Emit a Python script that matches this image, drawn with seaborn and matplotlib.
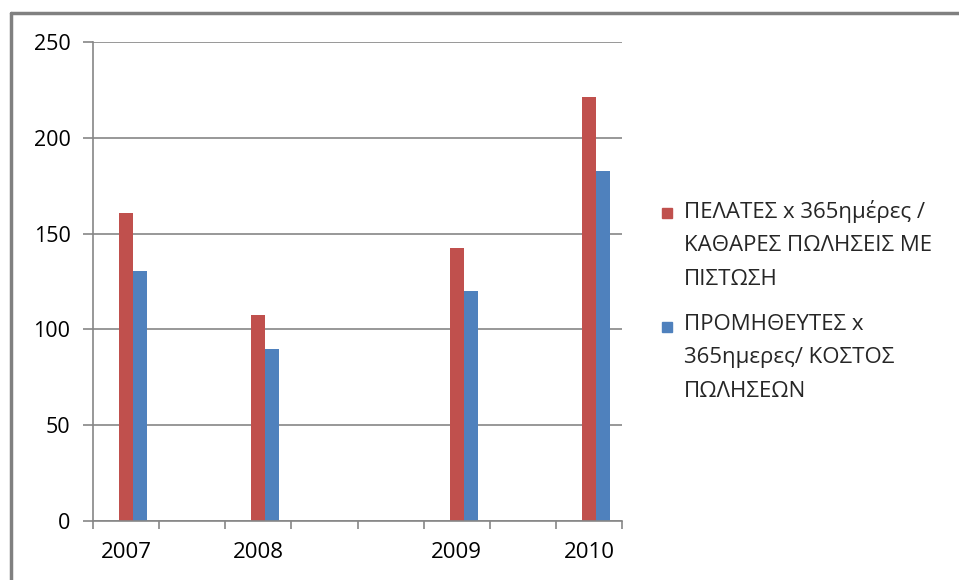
import pandas as pd
import numpy as np
from matplotlib import pyplot as plt
from matplotlib.lines import Line2D
from matplotlib.patches import Rectangle
import seaborn as sns

# category slots as laid out on the original axis (blank slots are empty rows)
slots = ['2007', ' ', '2008', '  ', '   ', '2009', '    ', '2010']
years = ['2007', '2008', '2009', '2010']
label_clients = 'ΠΕΛΑΤΕΣ x 365ημέρες /\nΚΑΘΑΡΕΣ ΠΩΛΗΣΕΙΣ ΜΕ\nΠΙΣΤΩΣΗ'
label_suppliers = 'ΠΡΟΜΗΘΕΥΤΕΣ x\n365ημερες/ ΚΟΣΤΟΣ\nΠΩΛΗΣΕΩΝ'
clients = [161, 107.5, 142.5, 221.5]
suppliers = [130.5, 90, 120, 182.5]
red = '#C0504D'
blue = '#4F81BD'

df = pd.DataFrame({
    'year': years * 2,
    'series': [label_clients] * 4 + [label_suppliers] * 4,
    'value': clients + suppliers,
})

sns.set_style('white')
plt.rcParams['font.family'] = ['Open Sans', 'DejaVu Sans']
grey = '#868686'

fig = plt.figure(figsize=(9.59, 5.80), dpi=100)
ax = fig.add_axes([93 / 959, 1 - 521 / 580, (622 - 93) / 959, (521 - 42) / 580])

# first hue level is an empty series, as in the source workbook
sns.barplot(data=df, x='year', y='value', hue='series', order=slots,
            hue_order=['_empty', label_clients, label_suppliers],
            palette={'_empty': 'white', label_clients: red, label_suppliers: blue},
            width=0.64, gap=0, dodge=True, saturation=1, legend=False,
            linewidth=0, ax=ax)

ax.set_xlim(-0.5, len(slots) - 0.5)
ax.set_ylim(0, 250)
ax.set_yticks(np.arange(0, 251, 50))
ax.yaxis.grid(True, color=grey, linewidth=1.2)
ax.set_axisbelow(True)
ax.set_xlabel('')
ax.set_ylabel('')

for side in ['top', 'right']:
    ax.spines[side].set_visible(False)
for side in ['left', 'bottom']:
    ax.spines[side].set_color(grey)
    ax.spines[side].set_linewidth(1.2)

ax.tick_params(axis='y', direction='out', length=7.2, width=1.2, color=grey,
               pad=9, labelsize=15.5, labelcolor='black', left=True)
ax.set_xticks(np.arange(-0.5, len(slots), 1), minor=True)
ax.tick_params(axis='x', which='minor', direction='out', length=6, width=1.2,
               color=grey, bottom=True)
ax.tick_params(axis='x', which='major', length=0, pad=15, labelsize=16,
               labelcolor='black')

# legend: square marker beside the first line of each wrapped label
for label, color, top in [(label_clients, red, 200), (label_suppliers, blue, 314)]:
    fig.text(684 / 959, 1 - top / 580, label, fontsize=16, va='top', ha='left',
             linespacing=1.78)
    fig.add_artist(Rectangle((662 / 959, 1 - (top + 18) / 580), 10 / 959, 10 / 580,
                             color=color, transform=fig.transFigure))

# outer chart frame (left and top edges visible)
fig.add_artist(Line2D([11 / 959, 11 / 959], [0, 1 - 13 / 580],
                      color='#808080', linewidth=2.5, transform=fig.transFigure))
fig.add_artist(Line2D([11 / 959, 1], [1 - 13 / 580, 1 - 13 / 580],
                      color='#808080', linewidth=2.5, transform=fig.transFigure))

fig.savefig('out.png', dpi=100)
